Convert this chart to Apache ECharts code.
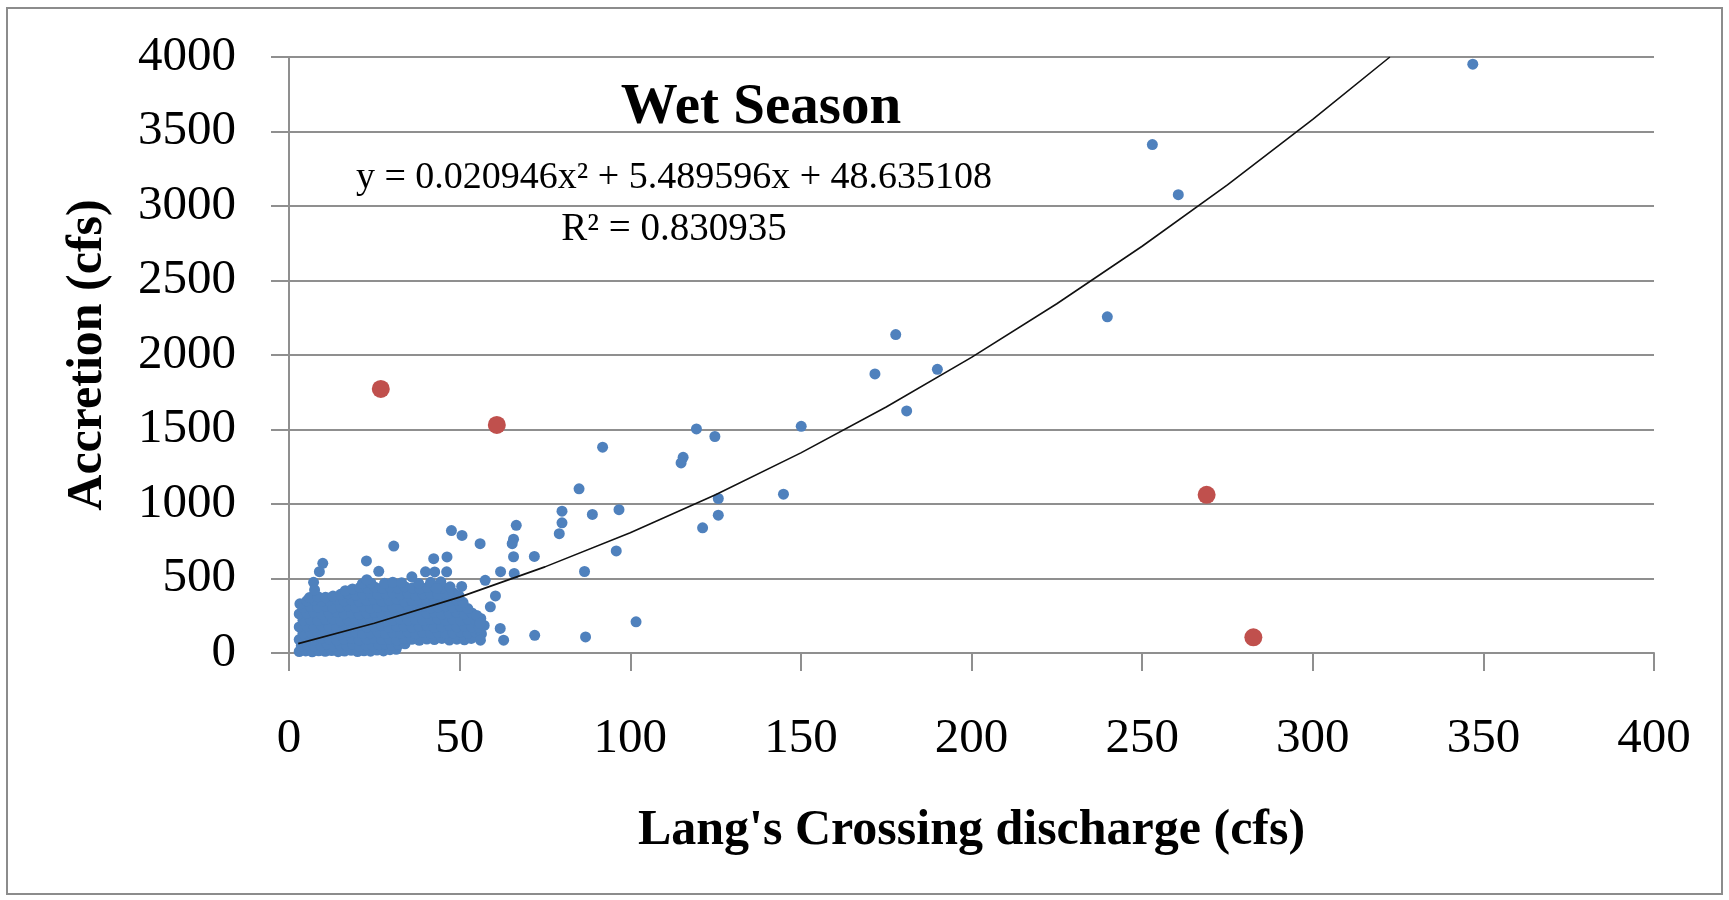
<!DOCTYPE html>
<html>
<head>
<meta charset="utf-8">
<script src="https://cdn.jsdelivr.net/npm/echarts@6/dist/echarts.min.js"></script>
<style>
html,body{margin:0;padding:0;background:#fff;}
#chart{width:1729px;height:900px;}
</style>
</head>
<body>
<div id="chart"></div>
<script>
// ---- Data ----
const xTicks = [0, 50, 100, 150, 200, 250, 300, 350, 400];
const yTicks = [0, 500, 1000, 1500, 2000, 2500, 3000, 3500, 4000];

// dense cluster of blue observations at low discharge
const blueCluster = [
  [3.0,10],[4.9,14],[6.8,8],[8.7,15],[10.6,11],[12.5,16],[14.4,9],[16.3,13],[18.2,18],[20.1,10],[22.0,15],[23.9,12],[25.8,20],[27.7,14],[29.6,22],[31.4,25],
  [3.6,48],[5.5,55],[7.4,46],[9.3,52],[11.2,58],[13.1,47],[15.0,53],[16.9,50],[18.8,57],[20.7,45],[22.6,54],[24.5,49],[26.4,56],[28.3,60],[30.2,52],[32.1,58],[34.0,62],
  [3.0,90],[5.2,95],[7.4,88],[9.6,97],[11.8,91],[14.0,86],[16.2,94],[18.4,99],[20.6,89],[22.8,93],[25.0,97],[27.2,90],[29.4,95],[31.6,88],[33.8,96],[36.0,92],[38.2,85],[40.4,94],[42.6,90],[44.8,98],[47.0,87],[49.2,93],[51.4,89],[53.4,98],
  [4.1,133],[6.3,138],[8.5,130],[10.7,140],[12.9,135],[15.1,129],[17.3,137],[19.5,142],[21.7,131],[23.9,136],[26.1,140],[28.3,132],[30.5,138],[32.7,134],[34.9,141],[37.1,130],[39.3,137],[41.5,133],[43.7,139],[45.9,131],[48.1,136],[50.3,142],[52.5,134],[54.7,138],[56.4,128],
  [3.0,175],[5.2,180],[7.4,172],[9.6,183],[11.8,177],[14.0,170],[16.2,181],[18.4,176],[20.6,185],[22.8,173],[25.0,179],[27.2,184],[29.4,171],[31.6,178],[33.8,182],[36.0,174],[38.2,180],[40.4,186],[42.6,172],[44.8,177],[47.0,183],[49.2,175],[51.4,181],[53.6,176],[55.8,171],[57.2,185],
  [4.1,220],[6.3,226],[8.5,218],[10.7,224],[12.9,229],[15.1,217],[17.3,223],[19.5,227],[21.7,219],[23.9,225],[26.1,230],[28.3,216],[30.5,222],[32.7,228],[34.9,221],[37.1,226],[39.3,218],[41.5,224],[43.7,229],[45.9,220],[48.1,225],[50.3,219],[52.5,227],[54.7,221],[56.2,232],
  [3.0,262],[5.2,268],[7.4,271],[9.6,260],[11.8,266],[14.0,273],[16.2,264],[18.4,269],[20.6,259],[22.8,267],[25.0,272],[27.2,263],[29.4,270],[31.6,258],[33.8,265],[36.0,271],[38.2,262],[40.4,268],[42.6,274],[44.8,261],[47.0,267],[49.2,272],[51.4,263],[53.6,269],[55.0,252],
  [4.1,306],[6.3,313],[8.5,309],[10.7,316],[12.9,304],[15.1,311],[17.3,317],[19.5,307],[21.7,314],[23.9,302],[26.1,309],[28.3,315],[30.5,305],[32.7,312],[34.9,318],[37.1,308],[39.3,314],[41.5,303],[43.7,310],[45.9,316],[48.1,306],[50.3,312],[52.4,298],
  [3.2,330],[5.2,350],[7.4,356],[9.6,348],[11.8,354],[14.0,360],[16.2,351],[18.4,357],[20.6,346],[22.8,353],[25.0,359],[27.2,349],[29.4,355],[31.6,361],[33.8,347],[36.0,354],[38.2,358],[40.4,350],[42.6,356],[44.8,362],[47.0,349],[49.2,355],[51.0,340],
  [6.0,372],[8.5,378],[10.7,375],[12.9,382],[15.1,394],[17.3,398],[19.5,390],[21.7,396],[23.9,401],[26.1,392],[28.3,398],[30.5,404],[32.7,393],[34.9,399],[37.1,388],[39.3,395],[41.5,401],[43.7,392],[45.9,398],[48.1,405],[49.8,385],
  [16.5,418],[18.6,430],[20.8,440],[23.0,434],[25.2,442],[27.4,436],[29.6,443],[31.8,437],[34.0,445],[36.2,438],[38.4,432],[40.6,441],[42.8,446],[45.0,437],[47.2,444],
  [21.5,465],[24.0,470],[28.0,468],[30.4,475],[33.0,472],[38.0,467],[41.5,474],[44.5,478]
];

// scattered blue observations
const blueScattered = [
  [346.9,3952],[253,3412],[260.6,3076],[239.8,2256],[177.8,2137],[190,1904],[171.7,1873],[181,1625],
  [150.1,1521],[119.4,1504],[124.8,1453],[115.5,1313],[114.9,1276],[91.9,1381],[85,1102],[144.9,1066],
  [125.8,1037],[125.8,925],[121.2,840],[96.7,962],[88.9,930],[95.9,685],[80.0,952],[80.0,874],[79.2,801],
  [86.6,547],[86.9,108],[101.7,209],[72.0,119],[71.9,648],[66.6,857],[65.8,764],[65.4,734],[65.8,646],
  [66.0,534],[62.0,546],[57.5,488],[60.5,383],[59.0,310],[56.0,199],[61.9,165],[62.9,86],[56.1,86],
  [56.0,734],[50.7,789],[47.6,822],[46.3,645],[42.4,633],[46.2,545],[42.7,544],[40.0,545],[36.0,511],
  [30.7,718],[26.3,548],[22.8,492],[22.7,618],[9.9,602],[8.9,546],[7.2,474],[7.5,423],[43.3,433],[50.6,447]
];

// highlighted (red) observations
const redPoints = [[26.9,1772],[60.9,1531],[268.9,1062],[282.6,105]];

// polynomial trend line
const trendX = [2.7, 25, 50, 75, 100, 125, 150, 175, 200, 225, 250, 275, 300, 322.6];
const trendY = [63, 199, 375, 578, 807, 1062, 1343, 1651, 1984, 2344, 2730, 3142, 3581, 4000];

const titleText = 'Wet Season';
const equationText = 'y = 0.020946x\u00B2 + 5.489596x + 48.635108';
const r2Text = 'R\u00B2 = 0.830935';
const xName = "Lang's Crossing discharge (cfs)";
const yName = 'Accretion (cfs)';

// ---- Chart ----
const FONT = '"Liberation Serif", "Times New Roman", serif';
const GRID_COLOR = '#8f8f8f';
const chart = echarts.init(document.getElementById('chart'), null, {renderer: 'canvas'});
const trendData = trendX.map((x, i) => [x, trendY[i]]);

chart.setOption({
  animation: false,
  backgroundColor: '#ffffff',
  grid: {left: 289, right: 75, top: 57, bottom: 247, containLabel: false},
  xAxis: {
    type: 'value', min: xTicks[0], max: xTicks[xTicks.length - 1], interval: 50,
    name: xName, nameLocation: 'middle', nameGap: 178,
    nameTextStyle: {fontFamily: FONT, fontSize: 50, fontWeight: 'bold', color: '#000', verticalAlign: 'middle'},
    axisLine: {show: true, onZero: false, lineStyle: {color: GRID_COLOR, width: 2}},
    axisTick: {show: true, inside: false, length: 18, lineStyle: {color: GRID_COLOR, width: 2}},
    axisLabel: {fontFamily: FONT, fontSize: 49, color: '#000', margin: 62, formatter: v => String(v)},
    splitLine: {show: false}
  },
  yAxis: {
    type: 'value', min: yTicks[0], max: yTicks[yTicks.length - 1], interval: 500,
    name: yName, nameLocation: 'middle', nameGap: 201, nameRotate: 90,
    nameTextStyle: {fontFamily: FONT, fontSize: 50, fontWeight: 'bold', color: '#000', verticalAlign: 'middle'},
    axisLine: {show: true, lineStyle: {color: GRID_COLOR, width: 2}},
    axisTick: {show: true, inside: false, length: 18, lineStyle: {color: GRID_COLOR, width: 2}},
    axisLabel: {fontFamily: FONT, fontSize: 49, color: '#000', margin: 53, formatter: v => String(v)},
    splitLine: {show: true, lineStyle: {color: GRID_COLOR, width: 2}}
  },
  graphic: [
    {type: 'rect', shape: {x: 7, y: 8, width: 1715, height: 886},
     style: {fill: 'none', stroke: '#8c8c8c', lineWidth: 2}, z: 0, silent: true},
    {type: 'text', x: 761, y: 108, z: 100,
     style: {text: titleText, font: 'bold 57px ' + FONT, fill: '#000', textAlign: 'center', textVerticalAlign: 'middle'}},
    {type: 'text', x: 674, y: 178, z: 100,
     style: {text: equationText, font: '38px ' + FONT, fill: '#000', textAlign: 'center', textVerticalAlign: 'middle'}},
    {type: 'text', x: 674, y: 230, z: 100,
     style: {text: r2Text, font: '39px ' + FONT, fill: '#000', textAlign: 'center', textVerticalAlign: 'middle'}}
  ],
  series: [
    {type: 'scatter', data: blueCluster.concat(blueScattered), symbol: 'circle', symbolSize: 11,
     itemStyle: {color: '#4f81bd', opacity: 1}, z: 2},
    {type: 'scatter', data: redPoints, symbol: 'circle', symbolSize: 18,
     itemStyle: {color: '#c0504d', opacity: 1}, z: 3},
    {type: 'line', data: trendData, showSymbol: false, symbol: 'none', smooth: false,
     lineStyle: {color: '#111', width: 1.6}, z: 4}
  ]
});
</script>
</body>
</html>
